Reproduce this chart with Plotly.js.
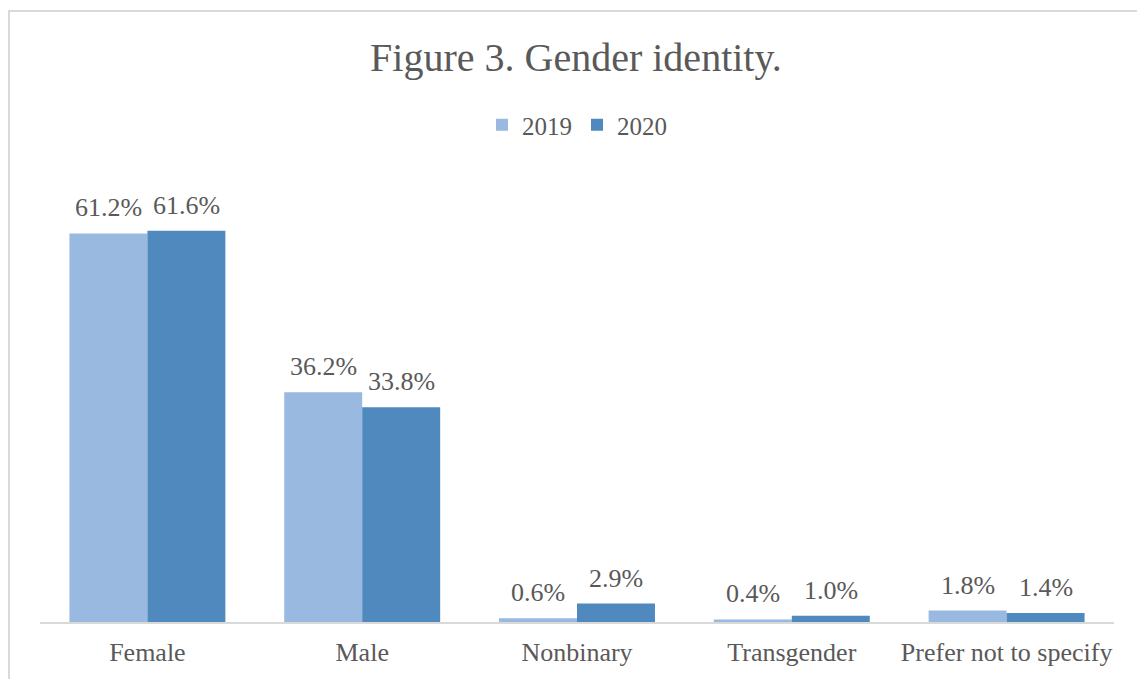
<!DOCTYPE html>
<html>
<head>
<meta charset="utf-8">
<script src="https://cdn.plot.ly/plotly-3.0.1.min.js"></script>
<style>
html,body{margin:0;padding:0;background:#fff;}
#chart{width:1137px;height:679px;}
</style>
</head>
<body>
<div id="chart"></div>
<script>
const categories = ["Female", "Male", "Nonbinary", "Transgender", "Prefer not to specify"];
const values2019 = [61.2, 36.2, 0.6, 0.4, 1.8];
const values2020 = [61.6, 33.8, 2.9, 1.0, 1.4];
const seriesNames = ["2019", "2020"];
const colors = ["#99B9E0", "#4F89BD"];

const textColor = "#595959";
const fontFamily = "'Liberation Serif', 'Times New Roman', serif";

const traces = [
  {type: "bar", name: seriesNames[0], x: categories, y: values2019,
   marker: {color: colors[0]}, hoverinfo: "x+y"},
  {type: "bar", name: seriesNames[1], x: categories, y: values2020,
   marker: {color: colors[1]}, hoverinfo: "x+y"}
];

const annotations = [];
[values2019, values2020].forEach((vals, s) => {
  vals.forEach((v, i) => {
    annotations.push({
      x: categories[i], y: v, xref: "x", yref: "y",
      text: v.toFixed(1) + "%", showarrow: false,
      xanchor: "center", yanchor: "bottom",
      xshift: s === 0 ? -39 : 39, yshift: 9,
      font: {family: fontFamily, size: 26, color: textColor}
    });
  });
});

const W = 1137, H = 679;
const mL = 40, mR = 23, mT = 170, mB = 57;
const pw = W - mL - mR, ph = H - mT - mB;

const layout = {
  width: W, height: H,
  paper_bgcolor: "#ffffff", plot_bgcolor: "#ffffff",
  margin: {l: mL, r: mR, t: mT, b: mB, pad: 0},
  font: {family: fontFamily, color: textColor, size: 26},
  title: {
    text: "Figure 3. Gender identity.",
    font: {family: fontFamily, size: 40, color: textColor},
    x: 576 / W, xanchor: "center", xref: "container",
    y: 1 - 57 / H, yanchor: "middle", yref: "container"
  },
  showlegend: true,
  legend: {
    orientation: "h", x: 0.5, xanchor: "center",
    y: (H - mB - 125) / ph, yanchor: "middle",
    font: {family: fontFamily, size: 25, color: textColor},
    bgcolor: "rgba(0,0,0,0)", itemclick: false
  },
  barmode: "group",
  bargap: 0.274,
  bargroupgap: 0,
  xaxis: {
    type: "category",
    showline: true, linecolor: "#d9d9d9", linewidth: 2,
    showgrid: false, zeroline: false, ticks: "",
    tickfont: {family: fontFamily, size: 26, color: textColor},
    ticklabelstandoff: 6
  },
  yaxis: {
    range: [0, ph / 6.35],
    visible: false, showgrid: false, zeroline: false, fixedrange: true
  },
  annotations: annotations,
  shapes: [{
    type: "rect", xref: "paper", yref: "paper",
    x0: (9 - mL) / pw, x1: (W + 10 - mL) / pw,
    y0: (H - mB - (H + 10)) / ph, y1: (H - mB - 11) / ph,
    line: {color: "#d9d9d9", width: 2}, fillcolor: "rgba(0,0,0,0)", layer: "below"
  }]
};

Plotly.newPlot("chart", traces, layout, {displayModeBar: false});
</script>
</body>
</html>
